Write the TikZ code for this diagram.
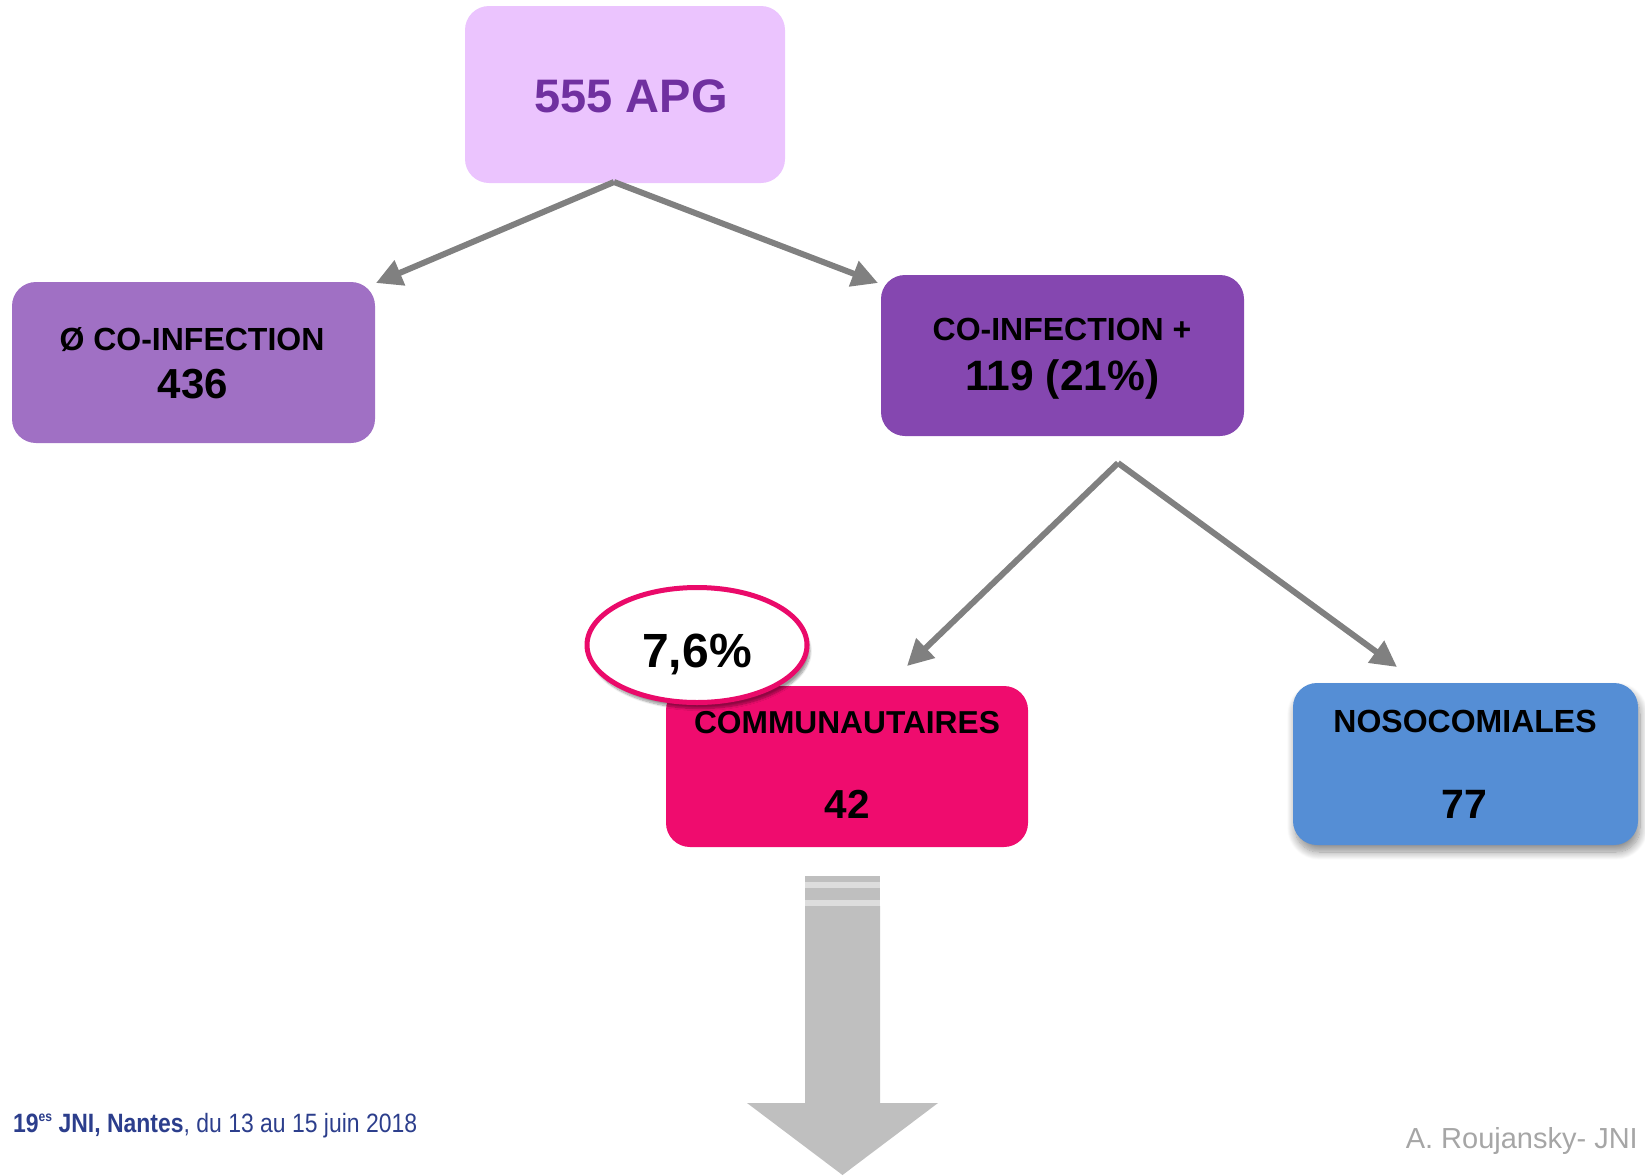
\documentclass[tikz,border=0pt]{standalone}
\usepackage{fontspec}
\setmainfont{Liberation Sans}
\usetikzlibrary{arrows.meta,shadows.blur,shapes.geometric}
\definecolor{topfill}{HTML}{EBC4FE}
\definecolor{toptext}{HTML}{7030A0}
\definecolor{leftfill}{HTML}{A070C4}
\definecolor{rightfill}{HTML}{8547B0}
\definecolor{commfill}{HTML}{EF0C6E}
\definecolor{nosofill}{HTML}{558ED5}
\definecolor{ringcol}{HTML}{EA0A6A}
\definecolor{arrowgray}{HTML}{808080}
\definecolor{bigarrow}{HTML}{BFBFBF}
\definecolor{stripegap}{HTML}{DDDDDD}
\definecolor{footblue}{RGB}{44,62,140}
\definecolor{authgray}{HTML}{A6A6A6}
\tikzset{
  box/.style={rectangle, rounded corners=24pt, inner sep=0pt, draw=none},
  conn/.style={draw=arrowgray, line width=6pt, -{Triangle[length=26pt,width=26pt]}},
  lbl/.style={anchor=base, inner sep=0pt, font=\bfseries},
}
\newcommand{\fsz}[1]{\fontsize{#1}{#1}\selectfont}
\begin{document}
\begin{tikzpicture}[x=1pt,y=-1pt]
\useasboundingbox (0,0) rectangle (1645,1175);

% boxes
\node[box, fill=topfill, minimum width=320, minimum height=177] (top) at (625,94.5) {};
\node[box, fill=leftfill, minimum width=363, minimum height=161] (left) at (193.5,362.5) {};
\node[box, fill=rightfill, minimum width=363, minimum height=161] (right) at (1062.5,355.5) {};
\node[box, fill=commfill, minimum width=362, minimum height=161] (comm) at (847,766.5) {};
\node[box, fill=nosofill, minimum width=345, minimum height=162,
      blur shadow={shadow xshift=2pt, shadow yshift=-7pt, shadow blur steps=12, shadow blur extra rounding=4pt, shadow blur radius=8pt, shadow opacity=45}] (noso) at (1465.5,764) {};

% connector coordinates
\coordinate (apexA) at (614,182);
\coordinate (tipLA) at (376,283);
\coordinate (tipRA) at (878,283);
\coordinate (apexB) at (1118,463);
\coordinate (tipLB) at (907,666);
\coordinate (tipRB) at (1397,667);

\draw[conn] (apexA) -- (tipLA);
\draw[conn] (apexA) -- (tipRA);
\draw[conn] (apexB) -- (tipLB);
\draw[conn] (apexB) -- (tipRB);

% percentage ellipse
\node[ellipse, draw=ringcol, fill=white, line width=5pt, minimum width=220, minimum height=115,
      blur shadow={shadow xshift=3pt, shadow yshift=-6pt, shadow blur steps=10, shadow opacity=40}] (pct) at (697,645) {};

% texts
\node[lbl, text=toptext] (ttop) at (631,112) {\fsz{47}555 APG};
\node[lbl] (tleft1) at (192,350) {\fsz{32}Ø CO-INFECTION};
\node[lbl] (tleft2) at (193,398) {\fsz{42}436};
\node[lbl] (tright1) at (1062,340) {\fsz{32}CO-INFECTION +};
\node[lbl] (tright2) at (1062.5,390) {\fsz{42.5}119 (21\%)};
\node[lbl] (tcomm1) at (847,733) {\fsz{31.7}COMMUNAUTAIRES};
\node[lbl] (tcomm2) at (847,818) {\fsz{40.5}42};
\node[lbl] (tnoso1) at (1465,732) {\fsz{32}NOSOCOMIALES};
\node[lbl] (tnoso2) at (1464,818) {\fsz{41}77};
\node[lbl] (tpct) at (697,667) {\fsz{48}7,6\%};

% big down arrow
\fill[bigarrow] (805,876) rectangle (880,882);
\fill[stripegap] (805,882) rectangle (880,888);
\fill[bigarrow] (805,888) rectangle (880,900);
\fill[stripegap] (805,900) rectangle (880,906);
\fill[bigarrow] (805,906) -- (880,906) -- (880,1103) -- (938,1103) -- (842.5,1175) -- (747,1103) -- (805,1103) -- cycle;

% footer
\node[anchor=base west, inner sep=0pt, text=footblue] (foot) at (13,1132)
  {\resizebox{404pt}{\height}{\fsz{26.5}\textbf{19\raisebox{0.4em}{\fsz{14}es} JNI, Nantes}, du 13 au 15 juin 2018}};
\node[anchor=base east, inner sep=0pt, text=authgray] (auth) at (1638,1148) {\fsz{29}A. Roujansky- JNI};
\end{tikzpicture}
\end{document}
